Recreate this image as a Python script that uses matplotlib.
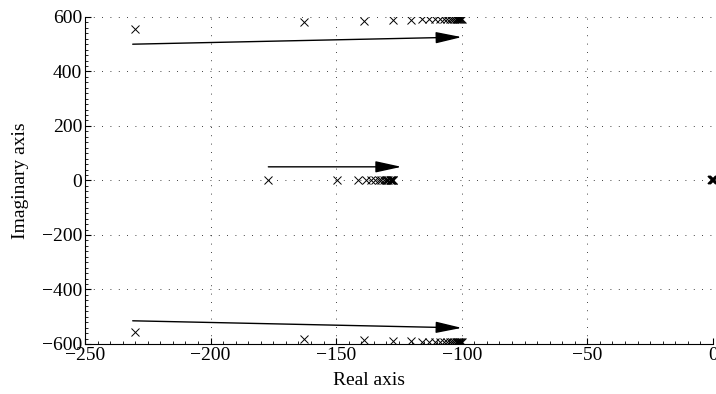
import matplotlib
matplotlib.use("Agg")
import matplotlib.pyplot as plt
from matplotlib.ticker import AutoMinorLocator

plt.rcParams["font.family"] = ["Liberation Serif", "DejaVu Serif"]

# upper branch poles (lower branch is the mirror image)
upper_re = [-230, -163, -138.8, -127.3, -120.2, -116, -113, -110.5, -108.6, -107,
            -105.7, -104.7, -103.8, -103, -102.4, -101.8, -101.3, -100.9, -100.5,
            -100.2, -100]
upper_im = [555, 580, 586, 589, 590, 591, 591.5, 592, 592, 592,
            592, 592, 592, 592, 592, 592, 592, 592, 592,
            592, 592]
lower_im = [-v for v in upper_im]

# real poles
real_re = [-177, -149.5, -141.5, -138, -136, -134.5, -133, -132, -131, -130.3,
           -129.7, -129.2, -128.7, -128.3, -128, -127.7, -127.5, -127.3]
origin_re = [0, 0.5, -0.5]

# arrows: (start, end)
arrows = [((-231, 500), (-100, 526)),
          ((-177, 50), (-124, 50)),
          ((-231, -515), (-100, -541))]

fig = plt.figure(figsize=(7.16, 3.94), dpi=100)
ax = fig.add_axes([0.1187, 0.127, 0.877, 0.83])

mk = dict(color="black", ms=6, mew=0.7, ls="none", marker="x")
ax.plot(upper_re, upper_im, **mk)
ax.plot(upper_re, lower_im, **mk)
ax.plot(real_re, [0] * len(real_re), **mk)
ax.plot(origin_re, [0] * len(origin_re), color="black", ms=6, mew=1.3,
        ls="none", marker="x", clip_on=False)

for start, end in arrows:
    ax.annotate("", xy=end, xytext=start,
                arrowprops=dict(arrowstyle="-|>,head_length=1.6,head_width=0.35",
                                color="black", lw=1.0, shrinkA=0, shrinkB=0))

ax.set_xlim(-250, 0)
ax.set_ylim(-600, 600)
ax.set_xticks([-250, -200, -150, -100, -50, 0])
ax.set_yticks([-600, -400, -200, 0, 200, 400, 600])
ax.xaxis.set_minor_locator(AutoMinorLocator(10))
ax.yaxis.set_minor_locator(AutoMinorLocator(10))
ax.tick_params(which="both", direction="in", labelsize=14)
ax.tick_params(which="major", length=4, pad=2)
ax.tick_params(which="minor", length=2)
ax.grid(True, which="major", linestyle=(0, (1, 9)), color="black", lw=0.6)
ax.spines["top"].set_visible(False)
ax.spines["right"].set_visible(False)

ax.set_xlabel("Real axis", fontsize=14, labelpad=3)
ax.xaxis.set_label_coords(0.452, -0.085)
ax.set_ylabel("Imaginary axis", fontsize=14, labelpad=9)

fig.savefig("out.png", dpi=100)
